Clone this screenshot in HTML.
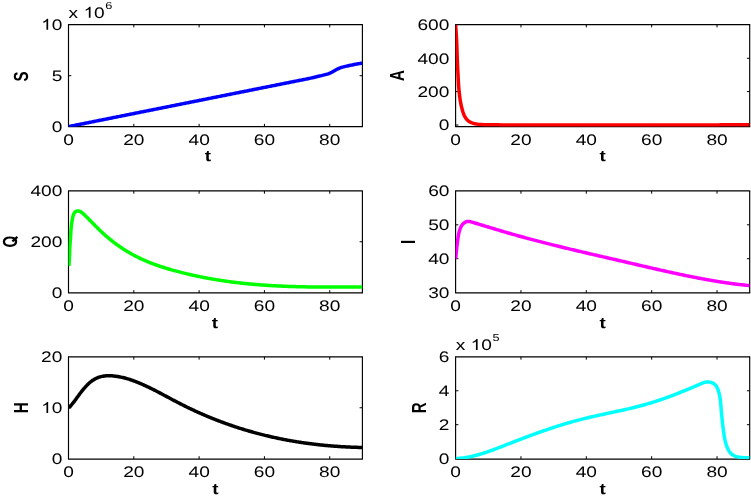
<!DOCTYPE html>
<html><head><meta charset="utf-8"><style>
html,body{margin:0;padding:0;background:#fff;}
body{width:751px;height:500px;overflow:hidden;}
svg{display:block;will-change:transform;text-rendering:geometricPrecision;font-family:"Liberation Sans",sans-serif;font-size:14px;}
</style></head><body>
<svg width="751" height="500" viewBox="0 0 751 500">
<defs><clipPath id="c0"><rect x="68.50" y="24.60" width="293.90" height="102.05"/></clipPath><clipPath id="c1"><rect x="455.60" y="24.60" width="294.10" height="102.05"/></clipPath><clipPath id="c2"><rect x="68.50" y="190.90" width="293.90" height="102.05"/></clipPath><clipPath id="c3"><rect x="455.60" y="190.90" width="294.10" height="102.05"/></clipPath><clipPath id="c4"><rect x="68.50" y="356.85" width="293.90" height="102.15"/></clipPath><clipPath id="c5"><rect x="455.60" y="356.85" width="294.10" height="102.15"/></clipPath></defs>
<rect width="751" height="500" fill="#fff"/>
<g stroke="#000" fill="none"><path d="M68.00,24.60H362.90M68.00,126.65H362.90" stroke-width="1.25"/><path d="M68.50,24.60V126.65M362.40,24.60V126.65" stroke-width="1.15"/><path d="M133.81,126.65v-2.80M133.81,24.60v2.80M199.12,126.65v-2.80M199.12,24.60v2.80M264.43,126.65v-2.80M264.43,24.60v2.80M329.74,126.65v-2.80M329.74,24.60v2.80M68.50,75.70h2.80M362.40,75.70h-2.80" stroke-width="1.0"/></g>
<g clip-path="url(#c0)"><g transform="scale(1.000,1)"><path d="M68.50,126.60 L69.48,126.40 L70.46,126.21 L71.44,126.01 L72.42,125.82 L73.40,125.62 L74.38,125.42 L75.36,125.23 L76.34,125.03 L77.33,124.83 L78.31,124.64 L79.29,124.44 L80.27,124.25 L81.25,124.05 L82.23,123.85 L83.21,123.66 L84.19,123.46 L85.17,123.27 L86.15,123.07 L87.13,122.87 L88.11,122.68 L89.09,122.48 L90.07,122.29 L91.05,122.09 L92.03,121.89 L93.01,121.70 L94.00,121.50 L94.98,121.30 L95.96,121.11 L96.94,120.91 L97.92,120.72 L98.90,120.52 L99.88,120.32 L100.86,120.13 L101.84,119.93 L102.82,119.74 L103.80,119.54 L104.78,119.34 L105.76,119.15 L106.74,118.95 L107.72,118.76 L108.70,118.56 L109.68,118.36 L110.66,118.17 L111.65,117.97 L112.63,117.77 L113.61,117.58 L114.59,117.38 L115.57,117.19 L116.55,116.99 L117.53,116.79 L118.51,116.60 L119.49,116.40 L120.47,116.21 L121.45,116.01 L122.43,115.81 L123.41,115.62 L124.39,115.42 L125.37,115.23 L126.35,115.03 L127.33,114.83 L128.32,114.64 L129.30,114.44 L130.28,114.24 L131.26,114.05 L132.24,113.85 L133.22,113.66 L134.20,113.46 L135.18,113.26 L136.16,113.07 L137.14,112.87 L138.12,112.68 L139.10,112.48 L140.08,112.28 L141.06,112.09 L142.04,111.89 L143.02,111.70 L144.00,111.50 L144.99,111.30 L145.97,111.11 L146.95,110.91 L147.93,110.71 L148.91,110.52 L149.89,110.32 L150.87,110.13 L151.85,109.93 L152.83,109.73 L153.81,109.54 L154.79,109.34 L155.77,109.15 L156.75,108.95 L157.73,108.75 L158.71,108.56 L159.69,108.36 L160.67,108.17 L161.66,107.97 L162.64,107.77 L163.62,107.58 L164.60,107.38 L165.58,107.18 L166.56,106.99 L167.54,106.79 L168.52,106.60 L169.50,106.40 L170.48,106.20 L171.46,106.01 L172.44,105.81 L173.42,105.62 L174.40,105.42 L175.38,105.22 L176.36,105.03 L177.34,104.83 L178.33,104.63 L179.31,104.44 L180.29,104.24 L181.27,104.05 L182.25,103.85 L183.23,103.65 L184.21,103.46 L185.19,103.26 L186.17,103.07 L187.15,102.87 L188.13,102.67 L189.11,102.48 L190.09,102.28 L191.07,102.09 L192.05,101.89 L193.03,101.69 L194.01,101.50 L194.99,101.30 L195.98,101.10 L196.96,100.91 L197.94,100.71 L198.92,100.52 L199.90,100.32 L200.88,100.12 L201.86,99.93 L202.84,99.73 L203.82,99.54 L204.80,99.34 L205.78,99.14 L206.76,98.95 L207.74,98.75 L208.72,98.56 L209.70,98.36 L210.68,98.16 L211.66,97.97 L212.65,97.77 L213.63,97.57 L214.61,97.38 L215.59,97.18 L216.57,96.99 L217.55,96.79 L218.53,96.59 L219.51,96.40 L220.49,96.20 L221.47,96.01 L222.45,95.81 L223.43,95.61 L224.41,95.42 L225.39,95.22 L226.37,95.03 L227.35,94.83 L228.33,94.63 L229.32,94.44 L230.30,94.24 L231.28,94.04 L232.26,93.85 L233.24,93.65 L234.22,93.46 L235.20,93.26 L236.18,93.06 L237.16,92.87 L238.14,92.67 L239.12,92.48 L240.10,92.28 L241.08,92.08 L242.06,91.89 L243.04,91.69 L244.02,91.50 L245.00,91.30 L245.99,91.10 L246.97,90.91 L247.95,90.71 L248.93,90.51 L249.91,90.32 L250.89,90.12 L251.87,89.93 L252.85,89.73 L253.83,89.53 L254.81,89.34 L255.79,89.14 L256.77,88.95 L257.75,88.75 L258.73,88.55 L259.71,88.36 L260.69,88.16 L261.67,87.97 L262.65,87.77 L263.64,87.57 L264.62,87.38 L265.60,87.18 L266.58,86.98 L267.56,86.79 L268.54,86.59 L269.52,86.40 L270.50,86.20 L271.48,86.00 L272.46,85.81 L273.44,85.61 L274.42,85.42 L275.40,85.22 L276.38,85.02 L277.36,84.83 L278.34,84.63 L279.32,84.44 L280.31,84.24 L281.29,84.04 L282.27,83.85 L283.25,83.65 L284.23,83.45 L285.21,83.26 L286.19,83.06 L287.17,82.87 L288.15,82.67 L289.13,82.47 L290.11,82.28 L291.09,82.08 L292.07,81.89 L293.05,81.69 L294.03,81.49 L295.01,81.30 L295.99,81.10 L296.98,80.90 L297.96,80.71 L298.94,80.51 L299.92,80.32 L300.90,80.12 L301.88,79.93 L302.86,79.73 L303.84,79.54 L304.82,79.34 L305.80,79.15 L306.78,78.96 L307.76,78.76 L308.74,78.56 L309.72,78.35 L310.70,78.13 L311.67,77.91 L312.65,77.69 L313.62,77.46 L314.59,77.23 L315.57,76.99 L316.54,76.76 L317.51,76.52 L318.48,76.29 L319.46,76.06 L320.43,75.84 L321.40,75.61 L322.38,75.38 L323.35,75.15 L324.32,74.91 L325.29,74.66 L326.25,74.40 L327.21,74.12 L328.16,73.82 L329.10,73.48 L330.02,73.11 L330.93,72.69 L331.81,72.23 L332.68,71.74 L333.54,71.24 L334.40,70.73 L335.27,70.24 L336.15,69.76 L337.03,69.31 L337.93,68.87 L338.84,68.46 L339.76,68.07 L340.69,67.71 L341.63,67.39 L342.59,67.10 L343.55,66.84 L344.52,66.60 L345.50,66.37 L346.47,66.15 L347.45,65.94 L348.43,65.73 L349.41,65.53 L350.38,65.32 L351.36,65.12 L352.34,64.92 L353.32,64.72 L354.30,64.52 L355.28,64.33 L356.27,64.14 L357.25,63.95 L358.23,63.78 L359.20,63.61 L360.15,63.45 L361.07,63.31 L361.96,63.17 L362.40,63.10" fill="none" stroke="#0000ff" stroke-width="3.50" stroke-linejoin="round" stroke-linecap="butt"/></g></g>
<text transform="translate(68.50,144.55) scale(1.250,1.000)" text-anchor="middle" font-size="15.3">0</text>
<text transform="translate(133.81,144.55) scale(1.250,1.000)" text-anchor="middle" font-size="15.3">20</text>
<text transform="translate(199.12,144.55) scale(1.250,1.000)" text-anchor="middle" font-size="15.3">40</text>
<text transform="translate(264.43,144.55) scale(1.250,1.000)" text-anchor="middle" font-size="15.3">60</text>
<text transform="translate(329.74,144.55) scale(1.250,1.000)" text-anchor="middle" font-size="15.3">80</text>
<text transform="translate(62.30,132.00) scale(1.250,1.000)" text-anchor="end" font-size="15.3">0</text>
<text transform="translate(62.30,80.90) scale(1.250,1.000)" text-anchor="end" font-size="15.3">5</text>
<path transform="translate(41.03,29.80) scale(0.01913,-0.01530)" d="M373,0L284,0L284,560C262,540 236,520 204,500C172,481 143,466 117,456L117,541C163,563 203,590 238,620C272,651 296,681 311,716L373,716Z"/><text transform="translate(51.66,29.80) scale(1.250,1.000)" text-anchor="start" font-size="15.3">0</text>
<text transform="translate(208.00,161.35) scale(1.350,1.090)" text-anchor="middle" font-weight="bold">t</text>
<text transform="translate(27.90,76.40) scale(1.350,1.000) rotate(-90)" text-anchor="middle" font-weight="bold" font-size="15.1">S</text>
<text transform="translate(68.60,17.70) scale(1.250,1.000)" text-anchor="start" font-size="15.3">x</text>
<path transform="translate(83.40,17.70) scale(0.01913,-0.01530)" d="M373,0L284,0L284,560C262,540 236,520 204,500C172,481 143,466 117,456L117,541C163,563 203,590 238,620C272,651 296,681 311,716L373,716Z"/><text transform="translate(94.04,17.70) scale(1.250,1.000)" text-anchor="start" font-size="15.3">0</text>
<text transform="translate(105.30,8.80) scale(1.250,1.000)" text-anchor="start" font-size="10.2">6</text>
<g stroke="#000" fill="none"><path d="M455.10,24.60H750.20M455.10,126.65H750.20" stroke-width="1.25"/><path d="M455.60,24.60V126.65M749.70,24.60V126.65" stroke-width="1.15"/><path d="M520.96,126.65v-2.80M520.96,24.60v2.80M586.31,126.65v-2.80M586.31,24.60v2.80M651.67,126.65v-2.80M651.67,24.60v2.80M717.02,126.65v-2.80M717.02,24.60v2.80M455.60,125.00h2.80M749.70,125.00h-2.80M455.60,91.60h2.80M749.70,91.60h-2.80M455.60,58.30h2.80M749.70,58.30h-2.80" stroke-width="1.0"/></g>
<g clip-path="url(#c1)"><g transform="scale(1.000,1)"><path d="M455.60,24.60 L455.67,25.60 L455.74,26.60 L455.81,27.59 L455.88,28.59 L455.95,29.59 L456.02,30.59 L456.09,31.58 L456.16,32.58 L456.22,33.58 L456.29,34.58 L456.35,35.57 L456.41,36.57 L456.47,37.57 L456.52,38.57 L456.57,39.57 L456.62,40.57 L456.66,41.57 L456.71,42.56 L456.75,43.56 L456.78,44.56 L456.82,45.56 L456.85,46.56 L456.89,47.56 L456.92,48.56 L456.95,49.56 L456.98,50.56 L457.01,51.56 L457.05,52.56 L457.08,53.56 L457.11,54.56 L457.14,55.56 L457.18,56.56 L457.21,57.56 L457.25,58.56 L457.29,59.55 L457.33,60.55 L457.37,61.55 L457.41,62.55 L457.46,63.55 L457.51,64.55 L457.55,65.55 L457.60,66.55 L457.65,67.55 L457.71,68.55 L457.76,69.54 L457.81,70.54 L457.87,71.54 L457.92,72.54 L457.97,73.54 L458.02,74.54 L458.08,75.54 L458.12,76.53 L458.17,77.53 L458.22,78.53 L458.27,79.53 L458.32,80.53 L458.37,81.53 L458.42,82.53 L458.48,83.52 L458.55,84.52 L458.62,85.52 L458.69,86.52 L458.77,87.51 L458.85,88.51 L458.94,89.51 L459.04,90.50 L459.14,91.50 L459.24,92.49 L459.34,93.49 L459.46,94.48 L459.57,95.47 L459.69,96.47 L459.82,97.46 L459.96,98.45 L460.10,99.44 L460.26,100.42 L460.42,101.41 L460.60,102.40 L460.78,103.38 L460.98,104.36 L461.19,105.33 L461.41,106.31 L461.64,107.28 L461.89,108.25 L462.14,109.22 L462.41,110.18 L462.69,111.14 L462.98,112.10 L463.30,113.04 L463.64,113.98 L464.01,114.91 L464.41,115.82 L464.87,116.70 L465.37,117.55 L465.93,118.37 L466.54,119.15 L467.21,119.88 L467.93,120.56 L468.70,121.17 L469.52,121.71 L470.39,122.18 L471.29,122.60 L472.22,122.95 L473.16,123.26 L474.12,123.53 L475.09,123.76 L476.07,123.95 L477.06,124.12 L478.04,124.26 L479.04,124.38 L480.03,124.48 L481.03,124.56 L482.02,124.62 L483.02,124.66 L484.02,124.69 L485.02,124.72 L486.02,124.74 L487.02,124.76 L488.02,124.77 L489.02,124.79 L490.02,124.80 L491.02,124.81 L492.02,124.82 L493.02,124.83 L494.02,124.84 L495.02,124.85 L496.02,124.86 L497.02,124.87 L498.02,124.87 L499.02,124.87 L500.02,124.88 L501.02,124.88 L502.02,124.88 L503.02,124.89 L504.02,124.89 L505.02,124.89 L506.02,124.89 L507.02,124.89 L508.02,124.89 L509.02,124.89 L510.02,124.89 L511.02,124.89 L512.02,124.89 L513.02,124.89 L514.02,124.90 L515.02,124.90 L516.02,124.90 L517.02,124.90 L518.02,124.90 L519.02,124.90 L520.02,124.90 L521.02,124.90 L522.02,124.90 L523.02,124.90 L524.02,124.90 L525.02,124.90 L526.02,124.90 L527.02,124.90 L528.02,124.90 L529.02,124.91 L530.02,124.91 L531.02,124.91 L532.02,124.91 L533.02,124.91 L534.02,124.91 L535.02,124.91 L536.02,124.91 L537.02,124.91 L538.02,124.91 L539.02,124.91 L540.02,124.91 L541.02,124.91 L542.02,124.91 L543.02,124.91 L544.02,124.91 L545.02,124.91 L546.02,124.91 L547.02,124.91 L548.02,124.91 L549.02,124.91 L550.02,124.91 L551.02,124.91 L552.02,124.91 L553.02,124.91 L554.02,124.91 L555.02,124.91 L556.02,124.91 L557.02,124.91 L558.02,124.91 L559.02,124.91 L560.02,124.91 L561.02,124.91 L562.02,124.91 L563.02,124.91 L564.02,124.90 L565.02,124.90 L566.02,124.90 L567.02,124.90 L568.02,124.90 L569.02,124.90 L570.02,124.90 L571.02,124.90 L572.02,124.90 L573.02,124.90 L574.02,124.90 L575.02,124.90 L576.02,124.90 L577.02,124.90 L578.02,124.90 L579.02,124.90 L580.02,124.90 L581.02,124.90 L582.02,124.90 L583.02,124.90 L584.02,124.90 L585.02,124.90 L586.02,124.90 L587.02,124.90 L588.02,124.90 L589.02,124.90 L590.02,124.90 L591.02,124.90 L592.02,124.90 L593.02,124.90 L594.02,124.90 L595.02,124.90 L596.02,124.90 L597.02,124.90 L598.02,124.90 L599.02,124.90 L600.02,124.90 L601.02,124.90 L602.02,124.90 L603.02,124.90 L604.02,124.90 L605.02,124.90 L606.02,124.90 L607.02,124.90 L608.02,124.90 L609.02,124.90 L610.02,124.90 L611.02,124.90 L612.02,124.90 L613.02,124.90 L614.02,124.90 L615.02,124.90 L616.02,124.90 L617.02,124.90 L618.02,124.90 L619.02,124.90 L620.02,124.90 L621.02,124.90 L622.02,124.90 L623.02,124.90 L624.02,124.90 L625.02,124.90 L626.02,124.90 L627.02,124.90 L628.02,124.90 L629.02,124.90 L630.02,124.90 L631.02,124.90 L632.02,124.90 L633.02,124.90 L634.02,124.90 L635.02,124.90 L636.02,124.90 L637.02,124.90 L638.02,124.90 L639.02,124.90 L640.02,124.90 L641.02,124.90 L642.02,124.90 L643.02,124.91 L644.02,124.91 L645.02,124.91 L646.02,124.91 L647.02,124.91 L648.02,124.91 L649.02,124.91 L650.02,124.91 L651.02,124.91 L652.02,124.91 L653.02,124.91 L654.02,124.91 L655.02,124.91 L656.02,124.91 L657.02,124.91 L658.02,124.91 L659.02,124.91 L660.02,124.91 L661.02,124.91 L662.02,124.91 L663.02,124.91 L664.02,124.91 L665.02,124.91 L666.02,124.91 L667.02,124.91 L668.02,124.91 L669.02,124.91 L670.02,124.91 L671.02,124.91 L672.02,124.91 L673.02,124.91 L674.02,124.91 L675.02,124.91 L676.02,124.91 L677.02,124.91 L678.02,124.91 L679.02,124.91 L680.02,124.91 L681.02,124.91 L682.02,124.91 L683.02,124.91 L684.02,124.91 L685.02,124.91 L686.02,124.91 L687.02,124.91 L688.02,124.91 L689.02,124.90 L690.02,124.90 L691.02,124.90 L692.02,124.90 L693.02,124.90 L694.02,124.90 L695.02,124.90 L696.02,124.90 L697.02,124.90 L698.02,124.90 L699.02,124.90 L700.02,124.90 L701.02,124.90 L702.02,124.90 L703.02,124.90 L704.02,124.90 L705.02,124.90 L706.02,124.89 L707.02,124.89 L708.02,124.89 L709.02,124.89 L710.02,124.89 L711.02,124.89 L712.02,124.89 L713.02,124.89 L714.02,124.88 L715.02,124.88 L716.02,124.88 L717.02,124.88 L718.02,124.88 L719.02,124.88 L720.02,124.87 L721.02,124.87 L722.02,124.87 L723.02,124.87 L724.02,124.87 L725.02,124.86 L726.02,124.86 L727.02,124.86 L728.02,124.86 L729.02,124.85 L730.02,124.85 L731.02,124.85 L732.02,124.85 L733.02,124.84 L734.02,124.84 L735.02,124.84 L736.02,124.83 L737.02,124.83 L738.02,124.83 L739.02,124.83 L740.02,124.82 L741.02,124.82 L742.02,124.82 L743.02,124.81 L744.02,124.81 L745.02,124.81 L746.02,124.81 L747.02,124.81 L748.01,124.80 L749.00,124.80 L749.50,124.80" fill="none" stroke="#ff0000" stroke-width="3.50" stroke-linejoin="round" stroke-linecap="butt"/></g></g>
<text transform="translate(455.60,144.55) scale(1.250,1.000)" text-anchor="middle" font-size="15.3">0</text>
<text transform="translate(520.96,144.55) scale(1.250,1.000)" text-anchor="middle" font-size="15.3">20</text>
<text transform="translate(586.31,144.55) scale(1.250,1.000)" text-anchor="middle" font-size="15.3">40</text>
<text transform="translate(651.67,144.55) scale(1.250,1.000)" text-anchor="middle" font-size="15.3">60</text>
<text transform="translate(717.02,144.55) scale(1.250,1.000)" text-anchor="middle" font-size="15.3">80</text>
<text transform="translate(449.40,130.20) scale(1.250,1.000)" text-anchor="end" font-size="15.3">0</text>
<text transform="translate(449.40,96.80) scale(1.250,1.000)" text-anchor="end" font-size="15.3">200</text>
<text transform="translate(449.40,63.50) scale(1.250,1.000)" text-anchor="end" font-size="15.3">400</text>
<text transform="translate(449.40,30.20) scale(1.250,1.000)" text-anchor="end" font-size="15.3">600</text>
<text transform="translate(602.65,161.35) scale(1.350,1.090)" text-anchor="middle" font-weight="bold">t</text>
<text transform="translate(404.30,75.60) scale(1.350,1.000) rotate(-90)" text-anchor="middle" font-weight="bold" font-size="15.1">A</text>
<g stroke="#000" fill="none"><path d="M68.00,190.90H362.90M68.00,292.95H362.90" stroke-width="1.25"/><path d="M68.50,190.90V292.95M362.40,190.90V292.95" stroke-width="1.15"/><path d="M133.81,292.95v-2.80M133.81,190.90v2.80M199.12,292.95v-2.80M199.12,190.90v2.80M264.43,292.95v-2.80M264.43,190.90v2.80M329.74,292.95v-2.80M329.74,190.90v2.80M68.50,241.75h2.80M362.40,241.75h-2.80" stroke-width="1.0"/></g>
<g clip-path="url(#c2)"><g transform="scale(1.000,1)"><path d="M68.90,266.00 L68.97,265.00 L69.04,264.00 L69.11,263.01 L69.18,262.01 L69.25,261.01 L69.31,260.01 L69.38,259.02 L69.43,258.02 L69.48,257.02 L69.53,256.02 L69.57,255.02 L69.60,254.02 L69.63,253.02 L69.66,252.02 L69.69,251.02 L69.72,250.02 L69.76,249.02 L69.81,248.03 L69.86,247.03 L69.92,246.03 L69.98,245.03 L70.04,244.03 L70.11,243.04 L70.18,242.04 L70.25,241.04 L70.32,240.04 L70.39,239.05 L70.46,238.05 L70.52,237.05 L70.59,236.05 L70.65,235.05 L70.71,234.06 L70.77,233.06 L70.83,232.06 L70.90,231.06 L70.98,230.06 L71.06,229.07 L71.15,228.07 L71.25,227.08 L71.36,226.08 L71.48,225.09 L71.61,224.10 L71.74,223.11 L71.88,222.12 L72.03,221.13 L72.18,220.14 L72.34,219.16 L72.52,218.17 L72.73,217.20 L72.97,216.23 L73.25,215.28 L73.59,214.35 L74.00,213.47 L74.50,212.68 L75.12,212.00 L75.85,211.48 L76.68,211.14 L77.57,210.98 L78.50,211.01 L79.42,211.19 L80.30,211.54 L81.13,212.01 L81.92,212.59 L82.67,213.22 L83.40,213.90 L84.13,214.58 L84.85,215.28 L85.57,215.97 L86.28,216.67 L87.00,217.37 L87.71,218.08 L88.41,218.78 L89.12,219.49 L89.82,220.20 L90.52,220.92 L91.22,221.63 L91.92,222.34 L92.62,223.06 L93.32,223.77 L94.02,224.49 L94.72,225.20 L95.43,225.91 L96.13,226.62 L96.83,227.33 L97.54,228.04 L98.25,228.74 L98.97,229.44 L99.68,230.14 L100.40,230.83 L101.13,231.52 L101.86,232.21 L102.59,232.89 L103.32,233.57 L104.06,234.24 L104.81,234.90 L105.56,235.57 L106.31,236.22 L107.07,236.88 L107.83,237.53 L108.60,238.17 L109.37,238.81 L110.14,239.44 L110.92,240.07 L111.70,240.69 L112.48,241.31 L113.27,241.92 L114.07,242.53 L114.87,243.13 L115.67,243.73 L116.48,244.32 L117.29,244.91 L118.10,245.49 L118.92,246.06 L119.74,246.63 L120.56,247.20 L121.39,247.76 L122.23,248.31 L123.06,248.86 L123.91,249.40 L124.75,249.93 L125.60,250.46 L126.45,250.98 L127.31,251.50 L128.16,252.01 L129.03,252.52 L129.89,253.02 L130.76,253.51 L131.64,254.00 L132.51,254.48 L133.39,254.96 L134.27,255.43 L135.16,255.90 L136.05,256.35 L136.94,256.81 L137.83,257.25 L138.73,257.69 L139.63,258.13 L140.53,258.56 L141.44,258.98 L142.35,259.40 L143.26,259.81 L144.17,260.22 L145.09,260.62 L146.01,261.01 L146.93,261.40 L147.85,261.78 L148.78,262.16 L149.71,262.54 L150.64,262.90 L151.57,263.27 L152.50,263.62 L153.44,263.98 L154.38,264.32 L155.32,264.66 L156.26,265.00 L157.20,265.34 L158.14,265.66 L159.09,265.99 L160.04,266.31 L160.99,266.62 L161.94,266.93 L162.89,267.24 L163.84,267.54 L164.80,267.84 L165.75,268.13 L166.71,268.43 L167.67,268.71 L168.63,269.00 L169.59,269.28 L170.55,269.56 L171.51,269.83 L172.47,270.10 L173.43,270.37 L174.40,270.64 L175.36,270.90 L176.33,271.16 L177.29,271.42 L178.26,271.67 L179.23,271.93 L180.20,272.18 L181.16,272.43 L182.13,272.67 L183.10,272.91 L184.07,273.15 L185.05,273.39 L186.02,273.63 L186.99,273.86 L187.96,274.09 L188.94,274.32 L189.91,274.54 L190.89,274.77 L191.86,274.99 L192.84,275.21 L193.81,275.42 L194.79,275.63 L195.77,275.84 L196.75,276.05 L197.73,276.26 L198.70,276.46 L199.68,276.66 L200.66,276.86 L201.64,277.06 L202.63,277.25 L203.61,277.44 L204.59,277.63 L205.57,277.82 L206.55,278.00 L207.54,278.18 L208.52,278.36 L209.51,278.54 L210.49,278.72 L211.47,278.89 L212.46,279.06 L213.45,279.23 L214.43,279.39 L215.42,279.56 L216.41,279.72 L217.39,279.88 L218.38,280.04 L219.37,280.19 L220.36,280.35 L221.34,280.50 L222.33,280.64 L223.32,280.79 L224.31,280.94 L225.30,281.08 L226.29,281.22 L227.28,281.36 L228.27,281.49 L229.26,281.63 L230.26,281.76 L231.25,281.89 L232.24,282.02 L233.23,282.14 L234.22,282.27 L235.22,282.39 L236.21,282.51 L237.20,282.63 L238.19,282.74 L239.19,282.86 L240.18,282.97 L241.18,283.08 L242.17,283.19 L243.16,283.29 L244.16,283.40 L245.15,283.50 L246.15,283.60 L247.14,283.70 L248.14,283.80 L249.13,283.89 L250.13,283.99 L251.13,284.08 L252.12,284.17 L253.12,284.26 L254.11,284.34 L255.11,284.43 L256.11,284.51 L257.10,284.59 L258.10,284.67 L259.10,284.75 L260.09,284.83 L261.09,284.91 L262.09,284.98 L263.09,285.05 L264.08,285.12 L265.08,285.19 L266.08,285.26 L267.08,285.32 L268.07,285.39 L269.07,285.45 L270.07,285.51 L271.07,285.57 L272.07,285.63 L273.07,285.69 L274.06,285.74 L275.06,285.80 L276.06,285.85 L277.06,285.90 L278.06,285.95 L279.06,286.00 L280.06,286.05 L281.05,286.09 L282.05,286.14 L283.05,286.18 L284.05,286.23 L285.05,286.27 L286.05,286.31 L287.05,286.34 L288.05,286.38 L289.05,286.42 L290.05,286.45 L291.05,286.49 L292.05,286.52 L293.05,286.55 L294.05,286.58 L295.04,286.61 L296.04,286.64 L297.04,286.67 L298.04,286.69 L299.04,286.72 L300.04,286.74 L301.04,286.77 L302.04,286.79 L303.04,286.81 L304.04,286.83 L305.04,286.85 L306.04,286.87 L307.04,286.89 L308.04,286.90 L309.04,286.92 L310.04,286.93 L311.04,286.95 L312.04,286.96 L313.04,286.97 L314.04,286.99 L315.04,287.00 L316.04,287.01 L317.04,287.02 L318.04,287.02 L319.04,287.03 L320.04,287.04 L321.04,287.05 L322.04,287.05 L323.04,287.06 L324.04,287.06 L325.04,287.07 L326.04,287.07 L327.04,287.07 L328.04,287.08 L329.04,287.08 L330.04,287.08 L331.04,287.08 L332.04,287.08 L333.04,287.08 L334.04,287.08 L335.04,287.08 L336.04,287.08 L337.04,287.07 L338.04,287.07 L339.04,287.07 L340.04,287.06 L341.04,287.06 L342.04,287.06 L343.04,287.05 L344.04,287.05 L345.04,287.04 L346.04,287.04 L347.04,287.03 L348.04,287.03 L349.04,287.02 L350.04,287.01 L351.04,287.01 L352.04,287.00 L353.04,287.00 L354.04,286.99 L355.04,286.98 L356.04,286.97 L357.04,286.97 L358.04,286.96 L359.03,286.95 L360.01,286.95 L360.98,286.94 L361.93,286.93 L362.40,286.93" fill="none" stroke="#00ff00" stroke-width="3.50" stroke-linejoin="round" stroke-linecap="butt"/></g></g>
<text transform="translate(68.50,310.85) scale(1.250,1.000)" text-anchor="middle" font-size="15.3">0</text>
<text transform="translate(133.81,310.85) scale(1.250,1.000)" text-anchor="middle" font-size="15.3">20</text>
<text transform="translate(199.12,310.85) scale(1.250,1.000)" text-anchor="middle" font-size="15.3">40</text>
<text transform="translate(264.43,310.85) scale(1.250,1.000)" text-anchor="middle" font-size="15.3">60</text>
<text transform="translate(329.74,310.85) scale(1.250,1.000)" text-anchor="middle" font-size="15.3">80</text>
<text transform="translate(62.30,297.80) scale(1.250,1.000)" text-anchor="end" font-size="15.3">0</text>
<text transform="translate(62.30,246.95) scale(1.250,1.000)" text-anchor="end" font-size="15.3">200</text>
<text transform="translate(62.30,196.10) scale(1.250,1.000)" text-anchor="end" font-size="15.3">400</text>
<text transform="translate(215.00,327.65) scale(1.350,1.090)" text-anchor="middle" font-weight="bold">t</text>
<text transform="translate(16.90,241.70) scale(1.350,1.000) rotate(-90)" text-anchor="middle" font-weight="bold" font-size="15.1">O</text>
<path d="M12.4,241.3L17.4,236.9" stroke="#000" stroke-width="2.3"/>
<g stroke="#000" fill="none"><path d="M455.10,190.90H750.20M455.10,292.95H750.20" stroke-width="1.25"/><path d="M455.60,190.90V292.95M749.70,190.90V292.95" stroke-width="1.15"/><path d="M520.96,292.95v-2.80M520.96,190.90v2.80M586.31,292.95v-2.80M586.31,190.90v2.80M651.67,292.95v-2.80M651.67,190.90v2.80M717.02,292.95v-2.80M717.02,190.90v2.80M455.60,258.70h2.80M749.70,258.70h-2.80M455.60,224.80h2.80M749.70,224.80h-2.80" stroke-width="1.0"/></g>
<g clip-path="url(#c3)"><g transform="scale(1.000,1)"><path d="M455.70,258.70 L455.79,257.70 L455.89,256.71 L455.98,255.71 L456.07,254.72 L456.16,253.72 L456.26,252.73 L456.35,251.73 L456.45,250.74 L456.55,249.74 L456.65,248.75 L456.76,247.75 L456.87,246.76 L456.99,245.76 L457.11,244.77 L457.23,243.78 L457.36,242.79 L457.49,241.80 L457.62,240.81 L457.75,239.81 L457.89,238.82 L458.02,237.83 L458.17,236.84 L458.33,235.86 L458.51,234.87 L458.71,233.89 L458.93,232.92 L459.17,231.95 L459.43,230.99 L459.72,230.03 L460.04,229.08 L460.38,228.15 L460.78,227.24 L461.22,226.35 L461.72,225.51 L462.30,224.71 L462.94,223.97 L463.66,223.30 L464.44,222.71 L465.27,222.20 L466.15,221.80 L467.06,221.53 L468.00,221.41 L468.95,221.43 L469.90,221.58 L470.85,221.81 L471.80,222.08 L472.76,222.37 L473.71,222.66 L474.67,222.95 L475.63,223.23 L476.59,223.52 L477.55,223.80 L478.50,224.09 L479.46,224.38 L480.42,224.67 L481.38,224.95 L482.33,225.24 L483.29,225.53 L484.25,225.82 L485.21,226.11 L486.16,226.40 L487.12,226.69 L488.08,226.98 L489.03,227.27 L489.99,227.56 L490.95,227.85 L491.90,228.14 L492.86,228.43 L493.82,228.72 L494.78,229.01 L495.73,229.30 L496.69,229.58 L497.65,229.87 L498.61,230.16 L499.57,230.44 L500.52,230.73 L501.48,231.01 L502.44,231.30 L503.40,231.58 L504.36,231.86 L505.32,232.14 L506.28,232.42 L507.24,232.70 L508.20,232.98 L509.16,233.25 L510.12,233.53 L511.09,233.80 L512.05,234.08 L513.01,234.35 L513.97,234.62 L514.93,234.90 L515.90,235.17 L516.86,235.44 L517.82,235.71 L518.79,235.97 L519.75,236.24 L520.71,236.51 L521.68,236.77 L522.64,237.04 L523.61,237.30 L524.57,237.56 L525.54,237.83 L526.50,238.09 L527.47,238.35 L528.43,238.61 L529.40,238.87 L530.36,239.12 L531.33,239.38 L532.30,239.64 L533.26,239.89 L534.23,240.15 L535.20,240.40 L536.17,240.66 L537.13,240.91 L538.10,241.16 L539.07,241.41 L540.04,241.66 L541.01,241.91 L541.97,242.16 L542.94,242.41 L543.91,242.66 L544.88,242.90 L545.85,243.15 L546.82,243.40 L547.79,243.64 L548.76,243.89 L549.73,244.13 L550.70,244.37 L551.67,244.61 L552.64,244.86 L553.61,245.10 L554.58,245.34 L555.55,245.58 L556.52,245.82 L557.49,246.06 L558.46,246.29 L559.44,246.53 L560.41,246.77 L561.38,247.01 L562.35,247.24 L563.32,247.48 L564.29,247.71 L565.27,247.95 L566.24,248.18 L567.21,248.42 L568.18,248.65 L569.15,248.88 L570.13,249.12 L571.10,249.35 L572.07,249.58 L573.05,249.81 L574.02,250.04 L574.99,250.27 L575.96,250.50 L576.94,250.73 L577.91,250.96 L578.88,251.19 L579.86,251.42 L580.83,251.65 L581.80,251.88 L582.78,252.11 L583.75,252.34 L584.73,252.56 L585.70,252.79 L586.67,253.02 L587.65,253.25 L588.62,253.47 L589.60,253.70 L590.57,253.92 L591.54,254.15 L592.52,254.38 L593.49,254.60 L594.47,254.83 L595.44,255.05 L596.41,255.28 L597.39,255.50 L598.36,255.73 L599.34,255.95 L600.31,256.18 L601.29,256.40 L602.26,256.63 L603.24,256.85 L604.21,257.08 L605.18,257.30 L606.16,257.53 L607.13,257.75 L608.11,257.98 L609.08,258.20 L610.06,258.42 L611.03,258.65 L612.01,258.87 L612.98,259.10 L613.95,259.32 L614.93,259.55 L615.90,259.77 L616.88,260.00 L617.85,260.22 L618.83,260.45 L619.80,260.67 L620.78,260.90 L621.75,261.12 L622.72,261.35 L623.70,261.57 L624.67,261.80 L625.65,262.03 L626.62,262.25 L627.59,262.48 L628.57,262.70 L629.54,262.93 L630.52,263.16 L631.49,263.38 L632.46,263.61 L633.44,263.84 L634.41,264.06 L635.39,264.29 L636.36,264.52 L637.33,264.75 L638.31,264.97 L639.28,265.20 L640.26,265.43 L641.23,265.65 L642.20,265.88 L643.18,266.10 L644.15,266.33 L645.13,266.56 L646.10,266.78 L647.07,267.01 L648.05,267.23 L649.02,267.46 L650.00,267.68 L650.97,267.91 L651.95,268.13 L652.92,268.35 L653.90,268.58 L654.87,268.80 L655.85,269.02 L656.82,269.25 L657.80,269.47 L658.77,269.69 L659.75,269.91 L660.72,270.13 L661.70,270.35 L662.67,270.57 L663.65,270.79 L664.62,271.01 L665.60,271.23 L666.58,271.44 L667.55,271.66 L668.53,271.88 L669.51,272.09 L670.48,272.31 L671.46,272.52 L672.44,272.73 L673.41,272.95 L674.39,273.16 L675.37,273.37 L676.35,273.58 L677.32,273.79 L678.30,274.00 L679.28,274.21 L680.26,274.41 L681.24,274.62 L682.22,274.82 L683.19,275.03 L684.17,275.23 L685.15,275.43 L686.13,275.64 L687.11,275.84 L688.09,276.04 L689.07,276.23 L690.05,276.43 L691.03,276.63 L692.01,276.82 L692.99,277.02 L693.98,277.21 L694.96,277.40 L695.94,277.59 L696.92,277.78 L697.90,277.97 L698.88,278.16 L699.87,278.34 L700.85,278.53 L701.83,278.71 L702.82,278.89 L703.80,279.07 L704.78,279.25 L705.77,279.43 L706.75,279.61 L707.74,279.78 L708.72,279.96 L709.71,280.13 L710.69,280.30 L711.68,280.47 L712.66,280.64 L713.65,280.80 L714.64,280.97 L715.62,281.13 L716.61,281.29 L717.60,281.45 L718.58,281.61 L719.57,281.77 L720.56,281.92 L721.55,282.07 L722.54,282.23 L723.52,282.37 L724.51,282.52 L725.50,282.67 L726.49,282.81 L727.48,282.95 L728.47,283.10 L729.46,283.23 L730.45,283.37 L731.44,283.51 L732.44,283.64 L733.43,283.77 L734.42,283.90 L735.41,284.02 L736.40,284.15 L737.40,284.27 L738.39,284.39 L739.38,284.51 L740.37,284.63 L741.37,284.74 L742.36,284.85 L743.36,284.96 L744.35,285.07 L745.34,285.18 L746.31,285.28 L747.27,285.37 L748.18,285.47 L749.07,285.55 L749.50,285.60" fill="none" stroke="#ff00ff" stroke-width="3.50" stroke-linejoin="round" stroke-linecap="butt"/></g></g>
<text transform="translate(455.60,310.85) scale(1.250,1.000)" text-anchor="middle" font-size="15.3">0</text>
<text transform="translate(520.96,310.85) scale(1.250,1.000)" text-anchor="middle" font-size="15.3">20</text>
<text transform="translate(586.31,310.85) scale(1.250,1.000)" text-anchor="middle" font-size="15.3">40</text>
<text transform="translate(651.67,310.85) scale(1.250,1.000)" text-anchor="middle" font-size="15.3">60</text>
<text transform="translate(717.02,310.85) scale(1.250,1.000)" text-anchor="middle" font-size="15.3">80</text>
<text transform="translate(449.40,297.80) scale(1.250,1.000)" text-anchor="end" font-size="15.3">30</text>
<text transform="translate(449.40,263.90) scale(1.250,1.000)" text-anchor="end" font-size="15.3">40</text>
<text transform="translate(449.40,230.00) scale(1.250,1.000)" text-anchor="end" font-size="15.3">50</text>
<text transform="translate(449.40,196.10) scale(1.250,1.000)" text-anchor="end" font-size="15.3">60</text>
<text transform="translate(602.65,327.65) scale(1.350,1.090)" text-anchor="middle" font-weight="bold">t</text>
<text transform="translate(415.10,242.00) scale(1.350,1.000) rotate(-90)" text-anchor="middle" font-weight="bold" font-size="15.1">I</text>
<g stroke="#000" fill="none"><path d="M68.00,356.85H362.90M68.00,459.00H362.90" stroke-width="1.25"/><path d="M68.50,356.85V459.00M362.40,356.85V459.00" stroke-width="1.15"/><path d="M133.81,459.00v-2.80M133.81,356.85v2.80M199.12,459.00v-2.80M199.12,356.85v2.80M264.43,459.00v-2.80M264.43,356.85v2.80M329.74,459.00v-2.80M329.74,356.85v2.80M68.50,407.75h2.80M362.40,407.75h-2.80" stroke-width="1.0"/></g>
<g clip-path="url(#c4)"><g transform="scale(1.000,1)"><path d="M68.60,407.83 L69.31,407.13 L70.02,406.42 L70.71,405.70 L71.39,404.97 L72.04,404.22 L72.68,403.45 L73.31,402.67 L73.92,401.88 L74.52,401.08 L75.11,400.27 L75.70,399.46 L76.28,398.65 L76.87,397.84 L77.45,397.03 L78.04,396.22 L78.63,395.41 L79.22,394.60 L79.81,393.80 L80.42,393.00 L81.02,392.21 L81.64,391.42 L82.26,390.64 L82.89,389.86 L83.52,389.09 L84.17,388.32 L84.82,387.57 L85.49,386.82 L86.17,386.09 L86.85,385.36 L87.56,384.65 L88.27,383.96 L89.01,383.28 L89.75,382.62 L90.52,381.98 L91.31,381.36 L92.11,380.77 L92.93,380.20 L93.77,379.67 L94.63,379.16 L95.51,378.69 L96.41,378.25 L97.32,377.85 L98.24,377.48 L99.18,377.15 L100.14,376.85 L101.10,376.59 L102.07,376.37 L103.05,376.19 L104.04,376.03 L105.03,375.92 L106.02,375.83 L107.02,375.77 L108.02,375.74 L109.02,375.74 L110.01,375.76 L111.01,375.80 L112.01,375.87 L113.01,375.95 L114.00,376.04 L114.99,376.15 L115.99,376.28 L116.97,376.43 L117.96,376.58 L118.95,376.75 L119.93,376.94 L120.91,377.14 L121.89,377.35 L122.86,377.57 L123.83,377.81 L124.80,378.06 L125.77,378.31 L126.73,378.58 L127.69,378.86 L128.65,379.15 L129.60,379.45 L130.55,379.76 L131.50,380.08 L132.44,380.41 L133.39,380.74 L134.32,381.08 L135.26,381.43 L136.19,381.79 L137.12,382.16 L138.05,382.53 L138.98,382.91 L139.90,383.29 L140.82,383.68 L141.74,384.08 L142.66,384.48 L143.57,384.89 L144.48,385.30 L145.39,385.72 L146.29,386.14 L147.20,386.57 L148.10,387.00 L149.00,387.43 L149.90,387.87 L150.80,388.31 L151.70,388.75 L152.59,389.20 L153.48,389.65 L154.38,390.10 L155.27,390.56 L156.15,391.02 L157.04,391.48 L157.93,391.94 L158.82,392.40 L159.70,392.87 L160.59,393.33 L161.47,393.80 L162.35,394.27 L163.24,394.74 L164.12,395.21 L165.00,395.68 L165.88,396.15 L166.76,396.62 L167.65,397.09 L168.53,397.57 L169.41,398.04 L170.29,398.51 L171.17,398.98 L172.06,399.45 L172.94,399.92 L173.82,400.39 L174.71,400.86 L175.59,401.32 L176.48,401.79 L177.36,402.25 L178.25,402.71 L179.14,403.17 L180.03,403.63 L180.92,404.08 L181.81,404.53 L182.70,404.98 L183.60,405.43 L184.49,405.88 L185.39,406.32 L186.29,406.76 L187.18,407.20 L188.08,407.64 L188.99,408.07 L189.89,408.51 L190.79,408.94 L191.69,409.36 L192.60,409.79 L193.50,410.21 L194.41,410.63 L195.32,411.05 L196.23,411.47 L197.14,411.88 L198.05,412.29 L198.96,412.70 L199.88,413.11 L200.79,413.51 L201.71,413.92 L202.62,414.32 L203.54,414.71 L204.46,415.11 L205.38,415.50 L206.30,415.89 L207.22,416.28 L208.14,416.67 L209.07,417.05 L209.99,417.43 L210.92,417.81 L211.84,418.18 L212.77,418.56 L213.70,418.93 L214.63,419.30 L215.56,419.66 L216.49,420.03 L217.42,420.39 L218.36,420.75 L219.29,421.11 L220.23,421.46 L221.16,421.81 L222.10,422.16 L223.04,422.51 L223.98,422.85 L224.91,423.20 L225.86,423.54 L226.80,423.87 L227.74,424.21 L228.68,424.54 L229.63,424.87 L230.57,425.20 L231.52,425.52 L232.46,425.85 L233.41,426.17 L234.36,426.48 L235.31,426.80 L236.26,427.11 L237.21,427.42 L238.16,427.73 L239.11,428.04 L240.06,428.34 L241.02,428.64 L241.97,428.94 L242.93,429.23 L243.88,429.53 L244.84,429.82 L245.80,430.11 L246.76,430.39 L247.72,430.67 L248.68,430.95 L249.64,431.23 L250.60,431.51 L251.56,431.78 L252.52,432.05 L253.49,432.32 L254.45,432.59 L255.41,432.85 L256.38,433.11 L257.35,433.37 L258.31,433.63 L259.28,433.88 L260.25,434.13 L261.22,434.38 L262.19,434.63 L263.15,434.87 L264.13,435.11 L265.10,435.35 L266.07,435.59 L267.04,435.82 L268.01,436.05 L268.99,436.28 L269.96,436.51 L270.94,436.73 L271.91,436.95 L272.89,437.17 L273.86,437.39 L274.84,437.60 L275.82,437.81 L276.79,438.02 L277.77,438.23 L278.75,438.43 L279.73,438.64 L280.71,438.84 L281.69,439.03 L282.67,439.23 L283.65,439.42 L284.63,439.61 L285.62,439.80 L286.60,439.98 L287.58,440.17 L288.57,440.35 L289.55,440.53 L290.53,440.70 L291.52,440.87 L292.50,441.05 L293.49,441.21 L294.48,441.38 L295.46,441.54 L296.45,441.71 L297.44,441.86 L298.42,442.02 L299.41,442.18 L300.40,442.33 L301.39,442.48 L302.38,442.63 L303.37,442.77 L304.36,442.91 L305.35,443.05 L306.34,443.19 L307.33,443.33 L308.32,443.46 L309.31,443.59 L310.30,443.72 L311.30,443.85 L312.29,443.97 L313.28,444.10 L314.27,444.22 L315.27,444.33 L316.26,444.45 L317.25,444.56 L318.25,444.67 L319.24,444.78 L320.23,444.89 L321.23,444.99 L322.22,445.10 L323.22,445.20 L324.21,445.29 L325.21,445.39 L326.20,445.48 L327.20,445.58 L328.20,445.66 L329.19,445.75 L330.19,445.84 L331.19,445.92 L332.18,446.00 L333.18,446.08 L334.18,446.16 L335.17,446.23 L336.17,446.30 L337.17,446.37 L338.17,446.44 L339.16,446.51 L340.16,446.57 L341.16,446.63 L342.16,446.69 L343.16,446.75 L344.16,446.81 L345.15,446.86 L346.15,446.91 L347.15,446.96 L348.15,447.01 L349.15,447.05 L350.15,447.10 L351.15,447.14 L352.15,447.18 L353.15,447.22 L354.14,447.25 L355.14,447.29 L356.14,447.32 L357.14,447.35 L358.14,447.38 L359.12,447.40 L360.09,447.43 L361.03,447.45 L361.95,447.47 L362.40,447.48" fill="none" stroke="#000000" stroke-width="3.50" stroke-linejoin="round" stroke-linecap="butt"/></g></g>
<text transform="translate(68.50,476.90) scale(1.250,1.000)" text-anchor="middle" font-size="15.3">0</text>
<text transform="translate(133.81,476.90) scale(1.250,1.000)" text-anchor="middle" font-size="15.3">20</text>
<text transform="translate(199.12,476.90) scale(1.250,1.000)" text-anchor="middle" font-size="15.3">40</text>
<text transform="translate(264.43,476.90) scale(1.250,1.000)" text-anchor="middle" font-size="15.3">60</text>
<text transform="translate(329.74,476.90) scale(1.250,1.000)" text-anchor="middle" font-size="15.3">80</text>
<text transform="translate(62.30,463.90) scale(1.250,1.000)" text-anchor="end" font-size="15.3">0</text>
<path transform="translate(41.03,412.95) scale(0.01913,-0.01530)" d="M373,0L284,0L284,560C262,540 236,520 204,500C172,481 143,466 117,456L117,541C163,563 203,590 238,620C272,651 296,681 311,716L373,716Z"/><text transform="translate(51.66,412.95) scale(1.250,1.000)" text-anchor="start" font-size="15.3">0</text>
<text transform="translate(62.30,362.00) scale(1.250,1.000)" text-anchor="end" font-size="15.3">20</text>
<text transform="translate(215.30,493.70) scale(1.350,1.090)" text-anchor="middle" font-weight="bold">t</text>
<text transform="translate(28.00,407.80) scale(1.350,1.000) rotate(-90)" text-anchor="middle" font-weight="bold" font-size="15.1">H</text>
<g stroke="#000" fill="none"><path d="M455.10,356.85H750.20M455.10,459.00H750.20" stroke-width="1.25"/><path d="M455.60,356.85V459.00M749.70,356.85V459.00" stroke-width="1.15"/><path d="M520.96,459.00v-2.80M520.96,356.85v2.80M586.31,459.00v-2.80M586.31,356.85v2.80M651.67,459.00v-2.80M651.67,356.85v2.80M717.02,459.00v-2.80M717.02,356.85v2.80M455.60,424.70h2.80M749.70,424.70h-2.80M455.60,390.75h2.80M749.70,390.75h-2.80" stroke-width="1.0"/></g>
<g clip-path="url(#c5)"><g transform="scale(1.000,1)"><path d="M455.60,458.58 L456.60,458.52 L457.60,458.46 L458.59,458.39 L459.59,458.31 L460.59,458.22 L461.58,458.11 L462.57,458.00 L463.56,457.87 L464.55,457.73 L465.54,457.57 L466.53,457.41 L467.51,457.24 L468.50,457.06 L469.48,456.86 L470.46,456.66 L471.43,456.45 L472.41,456.23 L473.38,456.00 L474.35,455.77 L475.32,455.52 L476.29,455.27 L477.26,455.01 L478.22,454.74 L479.18,454.47 L480.14,454.19 L481.10,453.90 L482.06,453.61 L483.01,453.32 L483.96,453.01 L484.92,452.71 L485.87,452.39 L486.81,452.07 L487.76,451.75 L488.71,451.43 L489.65,451.10 L490.59,450.76 L491.53,450.43 L492.47,450.08 L493.41,449.74 L494.35,449.39 L495.29,449.05 L496.22,448.69 L497.16,448.34 L498.09,447.98 L499.03,447.63 L499.96,447.27 L500.89,446.90 L501.82,446.54 L502.76,446.18 L503.69,445.81 L504.62,445.45 L505.55,445.08 L506.48,444.72 L507.41,444.35 L508.34,443.99 L509.27,443.62 L510.20,443.26 L511.13,442.89 L512.07,442.53 L513.00,442.16 L513.93,441.80 L514.86,441.44 L515.79,441.08 L516.73,440.72 L517.66,440.36 L518.59,440.00 L519.53,439.64 L520.46,439.28 L521.39,438.93 L522.33,438.57 L523.26,438.21 L524.20,437.86 L525.14,437.51 L526.07,437.16 L527.01,436.81 L527.94,436.46 L528.88,436.11 L529.82,435.76 L530.76,435.41 L531.70,435.07 L532.63,434.72 L533.57,434.38 L534.51,434.04 L535.45,433.70 L536.39,433.36 L537.34,433.02 L538.28,432.68 L539.22,432.35 L540.16,432.01 L541.11,431.68 L542.05,431.35 L542.99,431.02 L543.94,430.69 L544.88,430.37 L545.83,430.04 L546.77,429.72 L547.72,429.39 L548.67,429.07 L549.62,428.76 L550.56,428.44 L551.51,428.12 L552.46,427.81 L553.41,427.50 L554.36,427.19 L555.32,426.88 L556.27,426.57 L557.22,426.27 L558.17,425.97 L559.13,425.67 L560.08,425.37 L561.04,425.07 L561.99,424.78 L562.95,424.48 L563.90,424.19 L564.86,423.90 L565.82,423.62 L566.78,423.33 L567.74,423.05 L568.70,422.77 L569.66,422.50 L570.62,422.22 L571.58,421.95 L572.55,421.68 L573.51,421.41 L574.47,421.15 L575.44,420.88 L576.40,420.62 L577.37,420.36 L578.34,420.11 L579.30,419.86 L580.27,419.61 L581.24,419.36 L582.21,419.12 L583.18,418.87 L584.15,418.63 L585.12,418.40 L586.10,418.16 L587.07,417.93 L588.04,417.70 L589.01,417.47 L589.99,417.24 L590.96,417.01 L591.94,416.79 L592.91,416.57 L593.89,416.35 L594.86,416.13 L595.84,415.91 L596.82,415.70 L597.79,415.48 L598.77,415.27 L599.75,415.05 L600.72,414.84 L601.70,414.63 L602.68,414.42 L603.66,414.21 L604.63,414.00 L605.61,413.79 L606.59,413.58 L607.57,413.37 L608.55,413.16 L609.52,412.96 L610.50,412.75 L611.48,412.54 L612.46,412.33 L613.44,412.12 L614.41,411.91 L615.39,411.70 L616.37,411.49 L617.35,411.28 L618.32,411.07 L619.30,410.86 L620.28,410.64 L621.25,410.43 L622.23,410.21 L623.21,410.00 L624.18,409.78 L625.16,409.56 L626.13,409.34 L627.11,409.11 L628.08,408.89 L629.06,408.66 L630.03,408.43 L631.00,408.20 L631.98,407.97 L632.95,407.74 L633.92,407.50 L634.89,407.26 L635.86,407.02 L636.83,406.78 L637.80,406.53 L638.77,406.28 L639.74,406.03 L640.70,405.78 L641.67,405.52 L642.64,405.26 L643.60,405.00 L644.57,404.73 L645.53,404.46 L646.49,404.19 L647.45,403.91 L648.41,403.63 L649.37,403.35 L650.33,403.06 L651.29,402.77 L652.24,402.48 L653.20,402.18 L654.15,401.88 L655.10,401.58 L656.06,401.27 L657.01,400.96 L657.96,400.65 L658.90,400.34 L659.85,400.02 L660.80,399.70 L661.75,399.37 L662.69,399.04 L663.63,398.71 L664.58,398.38 L665.52,398.04 L666.46,397.71 L667.40,397.36 L668.34,397.02 L669.28,396.68 L670.21,396.33 L671.15,395.98 L672.09,395.62 L673.02,395.27 L673.96,394.91 L674.89,394.55 L675.82,394.19 L676.75,393.83 L677.68,393.46 L678.61,393.09 L679.54,392.73 L680.47,392.35 L681.40,391.98 L682.33,391.61 L683.25,391.23 L684.18,390.85 L685.10,390.47 L686.03,390.09 L686.95,389.71 L687.88,389.33 L688.80,388.94 L689.72,388.55 L690.64,388.16 L691.56,387.78 L692.48,387.38 L693.40,386.99 L694.32,386.60 L695.24,386.21 L696.16,385.81 L697.08,385.41 L698.00,385.02 L698.91,384.62 L699.83,384.22 L700.75,383.82 L701.66,383.43 L702.58,383.05 L703.50,382.70 L704.43,382.41 L705.38,382.19 L706.34,382.07 L707.32,382.02 L708.31,382.04 L709.29,382.12 L710.27,382.26 L711.23,382.48 L712.15,382.79 L713.04,383.20 L713.87,383.70 L714.64,384.30 L715.34,384.98 L715.96,385.74 L716.51,386.55 L716.99,387.41 L717.42,388.31 L717.81,389.22 L718.16,390.16 L718.47,391.10 L718.76,392.06 L719.02,393.02 L719.26,393.99 L719.48,394.97 L719.68,395.95 L719.86,396.93 L720.03,397.92 L720.19,398.90 L720.32,399.89 L720.45,400.89 L720.56,401.88 L720.66,402.87 L720.75,403.87 L720.83,404.87 L720.91,405.86 L720.99,406.86 L721.07,407.86 L721.14,408.85 L721.22,409.85 L721.30,410.85 L721.39,411.84 L721.47,412.84 L721.57,413.84 L721.66,414.83 L721.76,415.83 L721.86,416.82 L721.96,417.82 L722.06,418.81 L722.17,419.81 L722.27,420.80 L722.38,421.79 L722.49,422.79 L722.61,423.78 L722.72,424.77 L722.84,425.77 L722.96,426.76 L723.08,427.75 L723.21,428.74 L723.34,429.74 L723.46,430.73 L723.59,431.72 L723.73,432.71 L723.87,433.70 L724.01,434.69 L724.17,435.68 L724.33,436.66 L724.51,437.65 L724.70,438.63 L724.90,439.61 L725.12,440.58 L725.35,441.56 L725.60,442.52 L725.87,443.48 L726.16,444.44 L726.47,445.39 L726.80,446.33 L727.16,447.26 L727.55,448.18 L727.97,449.09 L728.42,449.98 L728.91,450.84 L729.45,451.68 L730.04,452.47 L730.68,453.22 L731.38,453.92 L732.14,454.54 L732.95,455.09 L733.81,455.57 L734.71,455.98 L735.64,456.32 L736.59,456.61 L737.56,456.85 L738.53,457.06 L739.51,457.23 L740.50,457.37 L741.49,457.49 L742.49,457.58 L743.49,457.66 L744.48,457.71 L745.47,457.74 L746.44,457.76 L747.38,457.78 L748.26,457.79 L749.09,457.80 L749.50,457.80" fill="none" stroke="#00ffff" stroke-width="3.50" stroke-linejoin="round" stroke-linecap="butt"/></g></g>
<text transform="translate(455.60,476.90) scale(1.250,1.000)" text-anchor="middle" font-size="15.3">0</text>
<text transform="translate(520.96,476.90) scale(1.250,1.000)" text-anchor="middle" font-size="15.3">20</text>
<text transform="translate(586.31,476.90) scale(1.250,1.000)" text-anchor="middle" font-size="15.3">40</text>
<text transform="translate(651.67,476.90) scale(1.250,1.000)" text-anchor="middle" font-size="15.3">60</text>
<text transform="translate(717.02,476.90) scale(1.250,1.000)" text-anchor="middle" font-size="15.3">80</text>
<text transform="translate(449.40,463.90) scale(1.250,1.000)" text-anchor="end" font-size="15.3">0</text>
<text transform="translate(449.40,429.90) scale(1.250,1.000)" text-anchor="end" font-size="15.3">2</text>
<text transform="translate(449.40,395.95) scale(1.250,1.000)" text-anchor="end" font-size="15.3">4</text>
<text transform="translate(449.40,362.00) scale(1.250,1.000)" text-anchor="end" font-size="15.3">6</text>
<text transform="translate(602.65,493.70) scale(1.350,1.090)" text-anchor="middle" font-weight="bold">t</text>
<text transform="translate(426.20,407.70) scale(1.350,1.000) rotate(-90)" text-anchor="middle" font-weight="bold" font-size="15.1">R</text>
<text transform="translate(455.70,349.95) scale(1.250,1.000)" text-anchor="start" font-size="15.3">x</text>
<path transform="translate(470.50,349.95) scale(0.01913,-0.01530)" d="M373,0L284,0L284,560C262,540 236,520 204,500C172,481 143,466 117,456L117,541C163,563 203,590 238,620C272,651 296,681 311,716L373,716Z"/><text transform="translate(481.14,349.95) scale(1.250,1.000)" text-anchor="start" font-size="15.3">0</text>
<text transform="translate(492.40,341.05) scale(1.250,1.000)" text-anchor="start" font-size="10.2">5</text>
</svg>
</body></html>
